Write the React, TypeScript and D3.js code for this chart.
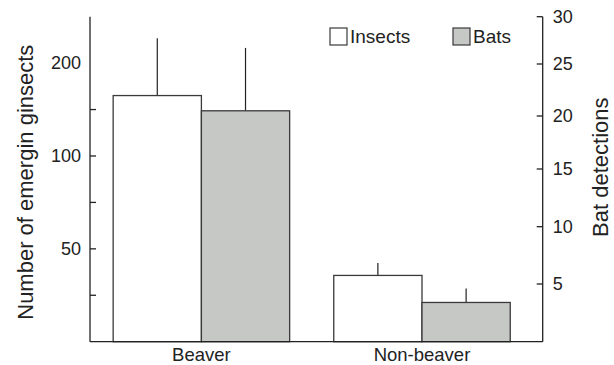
import React from "react";
import * as d3 from "d3";

const categories = ["Beaver", "Non-beaver"];
const insects = [157, 41];
const insectsErr = [84, 4];
const bats = [20.5, 3.4];
const batsErr = [6.2, 1.2];
const leftTickLabels = [50, 100, 200];
const rightTicks = [5, 10, 15, 20, 25, 30];
const seriesNames = ["Insects", "Bats"];

const W = 614;
const H = 365;
const axisLeftX = 90;
const axisRightX = 542.7;
const yTop = 16.7;
const yBottom = 341.7;
const FONT = "'Liberation Sans', Arial, Helvetica, sans-serif";
const GRAY = "#c6c8c6";
const STROKE = "#3a3a3a";

export default function App() {
  const x = d3
    .scaleBand<string>()
    .domain(categories)
    .range([91.1, 532.3])
    .paddingInner(0.2)
    .paddingOuter(0.1);
  const xs = d3.scaleBand<string>().domain(seriesNames).range([0, x.bandwidth()]);

  const yL = d3.scaleLog().domain([25, 200 * Math.SQRT2]).range([yBottom, yTop]);
  const yR = d3
    .scaleLinear()
    .domain([0, 5, 10, 15, 20, 25, 30])
    .range([yBottom, 284, 226.7, 169, 116, 64, yTop]);

  const leftTicks = d3.range(1, 6).map((k) => 25 * Math.pow(2, k / 2));

  return (
    <div style={{ position: "fixed", left: 0, top: 0 }}>
      <svg width={W} height={H} style={{ display: "block", background: "#fff" }} fontFamily={FONT}>
        {/* bars */}
        {categories.map((c, i) => {
          const x0 = x(c)!;
          const ins = yL(insects[i]);
          const insTop = yL(insects[i] + insectsErr[i]);
          const bt = yR(bats[i]);
          const btTop = yR(bats[i] + batsErr[i]);
          const xi = x0 + xs("Insects")!;
          const xb = x0 + xs("Bats")!;
          const bw = xs.bandwidth();
          return (
            <g key={c}>
              <line x1={xi + bw / 2} x2={xi + bw / 2} y1={ins} y2={insTop} stroke="#222" strokeWidth={1.2} />
              <line x1={xb + bw / 2} x2={xb + bw / 2} y1={bt} y2={btTop} stroke="#222" strokeWidth={1.2} />
              <rect x={xi} y={ins} width={bw} height={yBottom - ins} fill="#fff" stroke={STROKE} strokeWidth={1.3} />
              <rect x={xb} y={bt} width={bw} height={yBottom - bt} fill={GRAY} stroke={STROKE} strokeWidth={1.3} />
              <text x={x0 + x.bandwidth() / 2} y={361} textAnchor="middle" fontSize={18.5} fill="#222">
                {c}
              </text>
            </g>
          );
        })}

        {/* left axis */}
        <line x1={axisLeftX} x2={axisLeftX} y1={yTop} y2={yBottom} stroke="#222" strokeWidth={1.3} />
        {leftTicks.map((t) => (
          <line key={t} x1={axisLeftX} x2={axisLeftX + 6} y1={yL(t)} y2={yL(t)} stroke="#222" strokeWidth={1.3} />
        ))}
        {leftTickLabels.map((t) => (
          <text key={t} x={axisLeftX - 9} y={yL(t)} dy="0.35em" textAnchor="end" fontSize={18} fill="#222">
            {t}
          </text>
        ))}
        <text
          transform={`translate(33,${(yTop + yBottom) / 2 + 3}) rotate(-90)`}
          textAnchor="middle"
          fontSize={22}
          fill="#222"
        >
          Number of emergin ginsects
        </text>

        {/* right axis */}
        <line x1={axisRightX} x2={axisRightX} y1={yTop} y2={yBottom} stroke="#222" strokeWidth={1.3} />
        {rightTicks.map((t) => (
          <g key={t}>
            <line x1={axisRightX - 6} x2={axisRightX} y1={yR(t)} y2={yR(t)} stroke="#222" strokeWidth={1.3} />
            <text x={axisRightX + 10} y={yR(t)} dy="0.35em" textAnchor="start" fontSize={18} fill="#222">
              {t}
            </text>
          </g>
        ))}
        <text
          transform={`translate(608,${(yTop + yBottom) / 2 - 12}) rotate(-90)`}
          textAnchor="middle"
          fontSize={22}
          fill="#222"
        >
          Bat detections
        </text>

        {/* bottom axis */}
        <line x1={axisLeftX} x2={axisRightX} y1={yBottom} y2={yBottom} stroke="#222" strokeWidth={1.3} />

        {/* legend */}
        {seriesNames.map((s, i) => (
          <g key={s} transform={`translate(${330 + i * 123},28)`}>
            <rect x={0} y={0} width={17} height={17} fill={i === 0 ? "#fff" : GRAY} stroke={STROKE} strokeWidth={1.2} />
            <text x={20} y={15} fontSize={19} fill="#222">
              {s}
            </text>
          </g>
        ))}
      </svg>
    </div>
  );
}
